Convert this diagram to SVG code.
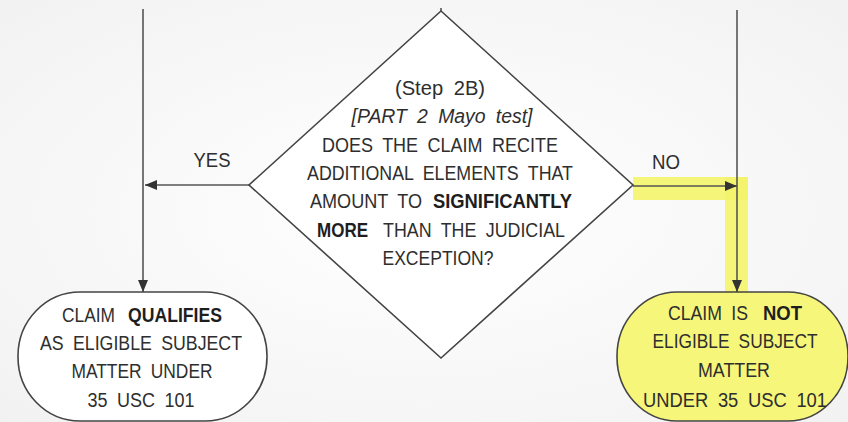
<svg xmlns="http://www.w3.org/2000/svg" width="848" height="422" viewBox="0 0 848 422">
<defs>
<style>
.ln{stroke:#555;stroke-width:1.6;fill:none}
.sh{stroke:#444;stroke-width:1.6}
.t{font-family:"Liberation Sans",Arial,sans-serif;font-size:20px;word-spacing:5px;fill:#2e2e2e;text-anchor:middle}
.s{text-anchor:start}
.b{font-weight:bold;fill:#1e1e1e}
.hl{fill:#f4f46a;opacity:0.9}
</style>
<marker id="ah" viewBox="0 0 12 10" refX="12" refY="5" markerWidth="12" markerHeight="10" markerUnits="userSpaceOnUse" orient="auto">
<path d="M0,0 L12,5 L0,10 Z" fill="#333"/>
</marker>
<radialGradient id="bg" cx="0.5" cy="0.5" r="0.75">
<stop offset="0" stop-color="#ffffff"/>
<stop offset="1" stop-color="#f1f1f1"/>
</radialGradient>
</defs>
<rect width="848" height="422" fill="url(#bg)"/>

<g id="highlight">
<rect class="hl" x="633" y="177" width="115" height="23"/>
<rect class="hl" x="725" y="177" width="23" height="115"/>
</g>

<g id="connectors">
<line class="ln" x1="143" y1="9" x2="143" y2="292" marker-end="url(#ah)"/>
<line class="ln" x1="249" y1="185" x2="145" y2="185" marker-end="url(#ah)"/>
<line class="ln" x1="441" y1="8" x2="441" y2="11"/>
<line class="ln" x1="737" y1="10" x2="737" y2="292" marker-end="url(#ah)"/>
<line class="ln" x1="633" y1="186" x2="737" y2="186" marker-end="url(#ah)"/>
<text class="t" x="212" y="167" textLength="37" lengthAdjust="spacingAndGlyphs">YES</text>
<text class="t" x="666" y="169" textLength="28" lengthAdjust="spacingAndGlyphs">NO</text>
</g>

<g id="node-decision">
<polygon class="sh" points="441,11 633,185 441,358 249,185" fill="#ffffff"/>
<text class="t" x="440" y="95" textLength="90" lengthAdjust="spacingAndGlyphs">(Step 2B)</text>
<text class="t" x="442" y="123" font-style="italic" textLength="181" lengthAdjust="spacingAndGlyphs">[PART 2 Mayo test]</text>
<text class="t" x="440" y="152" textLength="236" lengthAdjust="spacingAndGlyphs">DOES THE CLAIM RECITE</text>
<text class="t" x="440" y="180" textLength="266" lengthAdjust="spacingAndGlyphs">ADDITIONAL ELEMENTS THAT</text>
<text class="t s" x="310" y="208" textLength="112" lengthAdjust="spacingAndGlyphs">AMOUNT TO</text>
<text class="t s b" x="433" y="208" textLength="139" lengthAdjust="spacingAndGlyphs">SIGNIFICANTLY</text>
<text class="t s b" x="317" y="237" textLength="51" lengthAdjust="spacingAndGlyphs">MORE</text>
<text class="t s" x="383" y="237" textLength="182" lengthAdjust="spacingAndGlyphs">THAN THE JUDICIAL</text>
<text class="t" x="438" y="265" textLength="111" lengthAdjust="spacingAndGlyphs">EXCEPTION?</text>
</g>

<g id="node-qualifies">
<rect class="sh" x="18" y="292" width="249" height="129" rx="62" ry="64" fill="#ffffff"/>
<text class="t s" x="62" y="322" textLength="53" lengthAdjust="spacingAndGlyphs">CLAIM</text>
<text class="t s b" x="128" y="322" textLength="94" lengthAdjust="spacingAndGlyphs">QUALIFIES</text>
<text class="t" x="141" y="350" textLength="202" lengthAdjust="spacingAndGlyphs">AS ELIGIBLE SUBJECT</text>
<text class="t" x="142" y="378" textLength="141" lengthAdjust="spacingAndGlyphs">MATTER UNDER</text>
<text class="t" x="141" y="407" textLength="107" lengthAdjust="spacingAndGlyphs">35 USC 101</text>
</g>

<g id="node-not-eligible">
<rect class="sh" x="617" y="292" width="231" height="129" rx="60" ry="64" fill="#f6f67a"/>
<text class="t s" x="668" y="320" textLength="80" lengthAdjust="spacingAndGlyphs">CLAIM IS</text>
<text class="t s b" x="763" y="320" textLength="39" lengthAdjust="spacingAndGlyphs">NOT</text>
<text class="t" x="735" y="348" textLength="165" lengthAdjust="spacingAndGlyphs">ELIGIBLE SUBJECT</text>
<text class="t" x="734" y="377" textLength="72" lengthAdjust="spacingAndGlyphs">MATTER</text>
<text class="t" x="735" y="407" textLength="184" lengthAdjust="spacingAndGlyphs">UNDER 35 USC 101</text>
</g>
</svg>
